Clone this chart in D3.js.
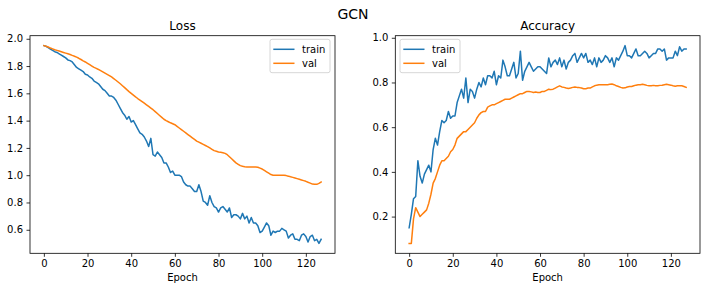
<!DOCTYPE html>
<html>
<head>
<meta charset="utf-8">
<script src="https://cdn.jsdelivr.net/npm/d3@7"></script>
<style>
  html, body { margin: 0; padding: 0; background: #fff; }
  svg { display: block; font-family: "DejaVu Sans", sans-serif; }
</style>
</head>
<body>
<svg id="chart" width="706" height="291"></svg>
<script>
// ---- data ----
const epochs = d3.range(0, 128);
const trainLoss = [
  1.95,1.945,1.935,1.925,1.915,1.905,1.90,1.89,1.88,1.87,
  1.86,1.845,1.84,1.83,1.81,1.79,1.78,1.77,1.76,1.74,
  1.735,1.72,1.71,1.69,1.68,1.67,1.65,1.63,1.62,1.60,
  1.58,1.58,1.57,1.55,1.52,1.49,1.46,1.44,1.41,1.43,
  1.39,1.40,1.37,1.34,1.31,1.30,1.28,1.25,1.21,1.27,
  1.15,1.14,1.17,1.15,1.13,1.09,1.09,1.06,1.02,1.03,
  1.00,1.00,1.00,0.99,0.95,0.93,0.92,0.92,0.90,0.88,
  0.88,0.93,0.88,0.81,0.80,0.78,0.85,0.80,0.77,0.76,
  0.73,0.76,0.77,0.75,0.73,0.76,0.69,0.71,0.71,0.70,
  0.68,0.72,0.68,0.70,0.65,0.69,0.65,0.65,0.63,0.58,
  0.59,0.62,0.65,0.63,0.56,0.59,0.58,0.59,0.59,0.61,
  0.60,0.59,0.54,0.56,0.57,0.53,0.53,0.52,0.56,0.57,
  0.55,0.51,0.55,0.56,0.52,0.53,0.50,0.53
];
const valLoss = [
  1.95,1.945,1.94,1.932,1.926,1.92,1.915,1.91,1.905,1.90,
  1.895,1.89,1.885,1.878,1.872,1.865,1.857,1.848,1.838,1.83,
  1.82,1.81,1.80,1.79,1.783,1.775,1.766,1.757,1.748,1.739,
  1.73,1.72,1.708,1.696,1.683,1.67,1.656,1.642,1.627,1.613,
  1.60,1.587,1.574,1.562,1.551,1.54,1.528,1.516,1.504,1.492,
  1.48,1.466,1.452,1.438,1.424,1.41,1.40,1.392,1.384,1.377,
  1.37,1.358,1.346,1.334,1.322,1.31,1.298,1.286,1.274,1.262,
  1.25,1.242,1.234,1.226,1.218,1.21,1.20,1.19,1.18,1.175,
  1.17,1.168,1.165,1.16,1.15,1.135,1.12,1.105,1.09,1.08,
  1.07,1.065,1.062,1.06,1.06,1.06,1.06,1.06,1.058,1.052,
  1.045,1.035,1.025,1.015,1.005,1.00,1.00,1.00,1.00,1.00,
  1.00,0.997,0.993,0.988,0.984,0.98,0.975,0.97,0.965,0.96,
  0.955,0.948,0.942,0.935,0.933,0.933,0.94,0.95
];
const trainAcc = [
  0.15,0.21,0.28,0.29,0.45,0.38,0.35,0.39,0.41,0.43,
  0.40,0.50,0.55,0.52,0.58,0.63,0.62,0.63,0.67,0.64,
  0.65,0.65,0.71,0.74,0.77,0.73,0.82,0.71,0.77,0.76,
  0.73,0.77,0.80,0.78,0.82,0.79,0.83,0.83,0.82,0.85,
  0.79,0.83,0.82,0.90,0.87,0.83,0.83,0.86,0.89,0.82,
  0.84,0.94,0.81,0.85,0.87,0.89,0.87,0.85,0.86,0.87,
  0.87,0.86,0.85,0.84,0.91,0.87,0.89,0.90,0.88,0.91,
  0.87,0.90,0.86,0.89,0.90,0.92,0.93,0.89,0.91,0.93,
  0.91,0.93,0.89,0.90,0.88,0.91,0.87,0.91,0.89,0.90,
  0.92,0.91,0.89,0.91,0.87,0.91,0.90,0.92,0.94,0.965,
  0.92,0.92,0.91,0.93,0.95,0.92,0.92,0.93,0.94,0.93,
  0.91,0.92,0.93,0.93,0.95,0.95,0.94,0.95,0.90,0.91,
  0.91,0.91,0.94,0.92,0.96,0.94,0.95,0.95
];
const valAcc = [
  0.08,0.08,0.19,0.24,0.22,0.20,0.21,0.22,0.23,0.26,
  0.30,0.35,0.37,0.40,0.43,0.45,0.45,0.46,0.47,0.49,
  0.50,0.52,0.55,0.56,0.57,0.58,0.58,0.59,0.60,0.61,
  0.62,0.64,0.655,0.665,0.67,0.67,0.69,0.695,0.70,0.70,
  0.705,0.71,0.715,0.72,0.725,0.725,0.725,0.73,0.735,0.74,
  0.745,0.75,0.75,0.755,0.76,0.76,0.758,0.755,0.757,0.755,
  0.755,0.76,0.76,0.765,0.77,0.768,0.77,0.775,0.78,0.785,
  0.78,0.778,0.775,0.773,0.775,0.778,0.78,0.778,0.777,0.775,
  0.772,0.772,0.775,0.775,0.78,0.785,0.788,0.79,0.79,0.79,
  0.79,0.79,0.792,0.793,0.79,0.785,0.782,0.778,0.775,0.776,
  0.78,0.782,0.782,0.785,0.788,0.79,0.79,0.792,0.79,0.787,
  0.785,0.785,0.787,0.785,0.785,0.787,0.788,0.79,0.792,0.79,
  0.788,0.785,0.783,0.785,0.785,0.785,0.782,0.778
];
const xTicks = [0, 20, 40, 60, 80, 100, 120];
const lossTicks = [0.6, 0.8, 1.0, 1.2, 1.4, 1.6, 1.8, 2.0];
const accTicks = [0.2, 0.4, 0.6, 0.8, 1.0];
const seriesNames = ["train", "val"];
const colors = ["#1f77b4", "#ff7f0e"];

// ---- drawing ----
const svg = d3.select("#chart");
const plotTop = 35.7, plotBottom = 253.3;

function pad(ext) { const d = (ext[1] - ext[0]) * 0.05; return [ext[0] - d, ext[1] + d]; }

svg.append("text").attr("x", 353).attr("y", 19).attr("text-anchor", "middle")
  .attr("font-size", 14).attr("fill", "#000").text("GCN");

function panel(left, right, title, series, yTicks, legendX) {
  const x = d3.scaleLinear().domain(pad(d3.extent(epochs))).range([left, right]);
  const all = series.flat();
  const y = d3.scaleLinear().domain(pad(d3.extent(all))).range([plotBottom, plotTop]);
  const g = svg.append("g");

  const line = d3.line().x((d, i) => x(epochs[i])).y(d => y(d));
  series.forEach((s, k) => {
    g.append("path").datum(s).attr("d", line).attr("fill", "none")
      .attr("stroke", colors[k]).attr("stroke-width", 1.5)
      .attr("stroke-linejoin", "round").attr("stroke-linecap", "square");
  });

  const xa = g.append("g").attr("transform", `translate(0,${plotBottom})`)
    .call(d3.axisBottom(x).tickValues(xTicks).tickSize(3.5).tickPadding(3.5).tickFormat(d3.format("d")));
  const ya = g.append("g").attr("transform", `translate(${left},0)`)
    .call(d3.axisLeft(y).tickValues(yTicks).tickSize(3.5).tickPadding(3.5).tickFormat(d3.format(".1f")));
  [xa, ya].forEach(a => {
    a.select(".domain").remove();
    a.selectAll("line").attr("stroke", "#000").attr("stroke-width", 0.8);
    a.selectAll("text").attr("font-size", 10).attr("fill", "#000")
      .attr("font-family", "DejaVu Sans, sans-serif");
  });

  g.append("rect").attr("x", left).attr("y", plotTop).attr("width", right - left)
    .attr("height", plotBottom - plotTop).attr("fill", "none").attr("stroke", "#000").attr("stroke-width", 0.8);

  const cx = (left + right) / 2;
  g.append("text").attr("x", cx).attr("y", 30).attr("text-anchor", "middle")
    .attr("font-size", 12).attr("fill", "#000").text(title);
  g.append("text").attr("x", cx).attr("y", 281).attr("text-anchor", "middle")
    .attr("font-size", 10).attr("fill", "#000").text("Epoch");

  // legend
  const lg = g.append("g");
  lg.append("rect").attr("x", legendX).attr("y", 39.3).attr("width", 60).attr("height", 33.4)
    .attr("rx", 2).attr("fill", "#fff").attr("fill-opacity", 0.8)
    .attr("stroke", "#cccccc").attr("stroke-width", 0.8);
  seriesNames.forEach((n, k) => {
    const yy = 49.3 + k * 14;
    lg.append("line").attr("x1", legendX + 3.3).attr("x2", legendX + 24.5)
      .attr("y1", yy).attr("y2", yy).attr("stroke", colors[k]).attr("stroke-width", 1.5);
    lg.append("text").attr("x", legendX + 32).attr("y", yy + 3.6)
      .attr("font-size", 10).attr("fill", "#000").text(n);
  });
}

panel(30, 335, "Loss", [trainLoss, valLoss], lossTicks, 270);
panel(395.3, 700, "Accuracy", [trainAcc, valAcc], accTicks, 400);
</script>
</body>
</html>
